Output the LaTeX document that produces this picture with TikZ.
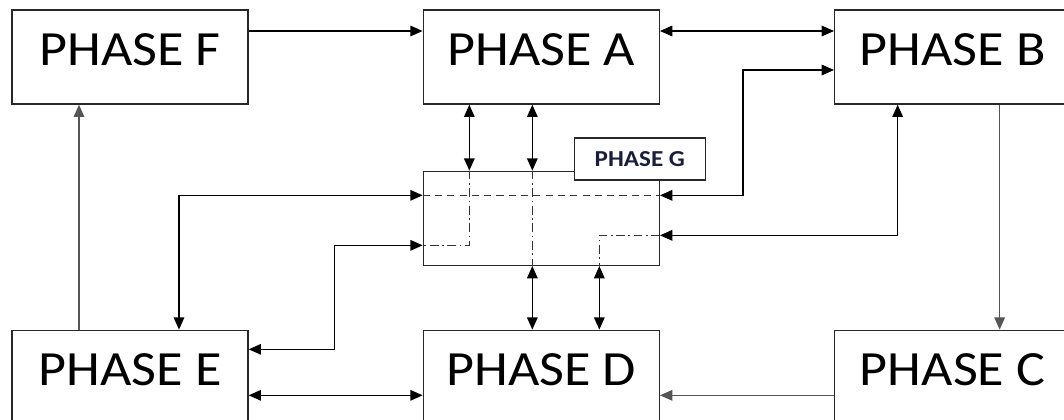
\documentclass[tikz,border=0pt]{standalone}
\usepackage{fontspec}
\setmainfont{Carlito}[FakeStretch=1.1]
\usetikzlibrary{arrows.meta, positioning, calc}
\definecolor{phaseline}{RGB}{40,40,40}
\definecolor{softline}{RGB}{85,85,85}
\definecolor{tagtext}{RGB}{25,30,60}
\tikzset{
  phase/.style={rectangle, draw=phaseline, line width=0.75pt, fill=white,
    minimum width=4.72cm, minimum height=1.88cm, inner sep=0pt,
    text height=0.64cm, text depth=0.32cm, font=\fontsize{28}{30}\selectfont},
  tag/.style={rectangle, draw=phaseline, line width=0.75pt, fill=white,
    minimum width=2.62cm, minimum height=0.84cm, inner sep=0pt,
    text=tagtext, font=\bfseries\fontsize{13}{15}\selectfont},
  arrow/.style={-{Triangle[length=7pt,width=6pt]}, line width=0.8pt},
  both/.style={{Triangle[length=7pt,width=6pt]}-{Triangle[length=7pt,width=6pt]}, line width=0.8pt},
  soft/.style={arrow, softline},
  inner/.style={line width=0.6pt, black!80, dash pattern=on 5pt off 2pt on 1pt off 2pt},
  innerdash/.style={line width=0.6pt, black!80, dash pattern=on 4pt off 3pt}
}
\begin{document}
\begin{tikzpicture}[x=0.2mm, y=-0.2mm, node distance=4.5cm and 3.48cm]
  \useasboundingbox (0,0) rectangle (1064,419);
  \clip (0,0) rectangle (1064,419);
  % phases
  \node[phase] (F) at (130,57) {PHASE F};
  \node[phase, right=of F] (A) {PHASE A};
  \node[phase, right=of A] (B) {PHASE B};
  \node[phase, below=of F] (E) {PHASE E};
  \node[phase, right=of E] (D) {PHASE D};
  \node[phase, right=of D] (C) {PHASE C};
  \node[phase, below=1.32cm of A] (G) {};
  % paths inside G
  \draw[innerdash] ($(G.west)+(0,-23)$) -- ($(G.east)+(0,-23)$);
  \draw[inner] ($(G.north)+(-72,0)$) |- ($(G.west)+(0,27)$);
  \draw[inner] ($(G.north)+(-9,0)$) -- ($(G.south)+(-9,0)$);
  \draw[inner] ($(G.east)+(0,17)$) -| ($(G.south)+(58,0)$);
  \node[tag, anchor=south east] (T) at ($(G.north east)+(46,10)$) {PHASE G};
  % top row
  \draw[arrow] ($(F.east)+(0,-26)$) -- ($(A.west)+(0,-26)$);
  \draw[both] ($(A.east)+(0,-26)$) -- ($(B.west)+(0,-26)$);
  % A and D with G
  \draw[both] ($(A.south)+(-72,0)$) -- ($(G.north)+(-72,0)$);
  \draw[both] ($(A.south)+(-9,0)$) -- ($(G.north)+(-9,0)$);
  \draw[both] ($(G.south)+(-9,0)$) -- ($(D.north)+(-9,0)$);
  \draw[both] ($(G.south)+(58,0)$) -- ($(D.north)+(58,0)$);
  % E with G
  \draw[both] ($(E.north)+(49,0)$) |- ($(G.west)+(0,-23)$);
  \draw[both] ($(E.east)+(0,-28)$) -- ++(86,0) |- ($(G.west)+(0,27)$);
  % B with G
  \draw[both] ($(G.east)+(0,-23)$) -- ++(83,0) |- ($(B.west)+(0,13)$);
  \draw[both] ($(G.east)+(0,17)$) -| ($(B.south)+(-55,0)$);
  % outer loop
  \draw[soft] ($(B.south)+(47,0)$) -- ($(C.north)+(47,0)$);
  \draw[soft] ($(C.west)+(0,18)$) -- ($(D.east)+(0,18)$);
  \draw[both] ($(E.east)+(0,18)$) -- ($(D.west)+(0,18)$);
  \draw[soft] ($(E.north)+(-51,0)$) -- ($(F.south)+(-51,0)$);
\end{tikzpicture}
\end{document}
